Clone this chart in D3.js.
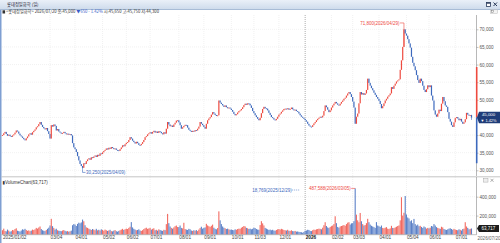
<!DOCTYPE html>
<html><head><meta charset="utf-8">
<script src="https://cdn.jsdelivr.net/npm/d3@7/dist/d3.min.js"></script>
<style>
html,body{margin:0;padding:0;background:#fff;overflow:hidden}
svg{display:block;font-family:"Liberation Sans","DejaVu Sans",sans-serif}
.kr{font-family:"Noto Sans CJK KR","Liberation Sans",sans-serif}
</style></head><body>
<svg id="c" width="500" height="243"></svg>
<script>
// ---------------- DATA ----------------
const stockName = "롯데정밀화학";
const titleText = "롯데정밀화학 (일)";
const startDate = "2025-01-02";
const endDate = "2026-07-20";
// KRX closed days (weekdays) inside the range
const holidays = ["2025-01-27","2025-01-28","2025-01-29","2025-01-30","2025-03-03","2025-05-01","2025-05-05","2025-05-06",
  "2025-06-03","2025-06-06","2025-08-15","2025-10-03","2025-10-06","2025-10-07","2025-10-08","2025-10-09","2025-12-25","2025-12-31",
  "2026-01-01","2026-02-16","2026-02-17","2026-02-18","2026-03-02","2026-05-01","2026-05-05","2026-05-25","2026-06-03"];
const firstOpen = 39800;
// daily closes, in hundreds of won
const closes2025 = [
  400,405,409,403,398,401,397,395,399,402,407,413,410,404,399,396,392,388,
  385,391,396,402,405,401,408,412,416,422,425,431,437,429,423,419,416,420,411,403,
  390,428,424,430,426,413,417,410,407,404,406,409,405,402,404,401,403,399,377,365,
  360,352,340,328,318,312,307,320,318,326,331,334,330,337,335,339,342,338,344,341,348,346,
  351,355,358,362,359,364,361,366,363,360,362,358,357,355,360,365,371,368,374,
  378,380,386,394,390,384,380,376,381,377,372,371,375,380,386,394,397,402,405,
  408,404,409,412,407,410,406,411,409,405,402,408,404,418,437,430,425,427,423,430,435,441,442,
  436,428,418,422,426,429,428,421,415,412,409,412,410,414,413,418,424,437,432,428,
  423,418,432,442,447,451,458,465,461,457,454,456,498,492,488,484,480,484,479,476,478,475,
  471,466,460,456,459,464,468,470,474,479,485,489,486,490,489,484,477,468,
  462,456,451,446,442,449,462,474,480,476,475,470,463,457,451,448,444,442,446,452,
  458,461,466,470,474,475,473,476,472,474,478,473,470,472,468,466,461,456,452,449,446];
const closes2026 = [
  442,438,432,427,424,423,428,433,437,442,446,449,452,450,455,468,484,479,472,465,470,
  478,484,489,494,490,486,484,489,494,498,503,506,512,518,522,516,508,
  495,478,432,452,461,490,522,515,519,514,518,528,560,548,540,533,527,520,514,508,503,
  497,488,476,482,490,498,503,509,513,518,536,531,540,546,552,555,558,585,612,650,700,688,
  682,672,660,648,622,605,595,584,570,556,548,560,553,540,528,522,530,541,
  536,541,512,498,470,458,452,461,472,468,489,508,496,484,480,465,446,438,428,423,436,
  448,451,447,442,446,438,432,436,445,463,458,455,456.5,450];
// daily volumes, in thousands of shares
const volumes2025 = [
  45,62,38,33,52,41,29,35,48,44,58,66,40,36,31,42,55,50,
  60,48,39,44,35,41,52,47,55,70,62,74,85,58,45,40,36,48,60,72,
  95,166,88,70,52,61,45,40,38,35,42,47,39,33,36,30,34,41,98,110,
  105,90,112,125,118,128,158,140,98,76,70,62,55,48,58,52,45,60,44,50,42,55,
  48,40,52,45,38,43,50,36,33,41,47,35,30,38,45,52,60,48,56,
  62,58,70,82,131,75,60,52,45,48,55,42,38,46,58,66,72,60,64,
  70,52,60,66,45,50,41,55,48,42,38,50,46,110,218,120,85,70,62,75,88,95,80,
  78,95,70,65,124,58,52,48,60,55,42,38,45,40,47,36,52,68,82,62,
  70,75,113,96,88,80,92,105,72,60,55,68,245,150,110,85,72,66,58,62,55,50,
  52,48,45,55,50,58,62,60,72,80,90,85,70,66,58,62,55,60,
  72,68,58,52,50,100,141,118,96,70,62,55,48,52,45,50,42,40,48,55,
  58,52,60,55,48,45,42,50,40,38,45,36,34,38,30,32,28,26,24,18.769,27];
const volumes2026 = [
  40,42,50,48,38,36,45,52,48,55,58,62,60,55,72,98,130,90,75,68,80,
  88,95,110,193,120,80,72,85,90,95,100,92,110,125,130,105,118,
  120,141,487.588,210,150,130,228,140,110,95,100,120,166,130,105,92,85,78,70,131,95,
  88,80,95,70,66,72,78,62,58,65,92,70,68,75,82,90,96,150,394,200,230,407,
  212,180,170,140,150,120,165,110,95,105,88,92,80,70,85,76,62,70,
  65,72,90,85,110,95,78,70,65,60,82,75,58,52,48,55,62,66,58,50,60,
  52,48,45,55,50,42,58,62,130,85,70,55,60,63.717];
// intraday extremes shown as wicks
const wickHigh = [["2026-04-29",71800],["2026-07-20",45750]];
const wickLow = [["2025-04-09",30250],["2026-07-20",44300]];
const lastOpenHighLow = [45650, 45750, 44300];
const priceTicks = [30000,35000,40000,45000,50000,55000,60000,65000,70000];
const volumeTicks = [200000,400000];
const axisRangeBand = [32000, 45000, 59300];
const xTicks = [["2025-01-02","2025/01/02"],["2025-03-04","03/04"],["2025-04-01","04/01"],["2025-05-02","05/02"],
  ["2025-06-02","06/02"],["2025-07-01","07/01"],["2025-08-01","08/01"],["2025-09-01","09/01"],["2025-10-01","10/01"],
  ["2025-11-03","11/03"],["2025-12-01","12/01"],["2026-01-02","2026"],["2026-02-02","02/02"],["2026-03-03","03/03"],
  ["2026-04-01","04/01"],["2026-05-04","05/04"],["2026-06-01","06/01"],["2026-07-01","07/01"]];
const endLabel = "2026/07/20";
const annotations = {maxPrice:["2026-04-29",71800], minPrice:["2025-04-09",30250],
  maxVol:["2026-03-05",487588], minVol:["2025-12-29",18769]};

// ---------------- BUILD ----------------
const holSet = new Set(holidays);
const dates = [];
for (let t = Date.parse(startDate+"T00:00:00Z"); t <= Date.parse(endDate+"T00:00:00Z"); t += 864e5) {
  const d = new Date(t), wd = d.getUTCDay(), s = d.toISOString().slice(0,10);
  if (wd !== 0 && wd !== 6 && !holSet.has(s)) dates.push(s);
}
const closes = closes2025.concat(closes2026).map(v => Math.round(v*100));
const vols = volumes2025.concat(volumes2026).map(v => Math.round(v*1000));
const n = Math.min(dates.length, closes.length, vols.length);
const hiMap = new Map(wickHigh), loMap = new Map(wickLow);
const bars = d3.range(n).map(i => {
  const o = i === 0 ? firstOpen : closes[i-1], c = closes[i];
  const hi = Math.max(o, c, hiMap.get(dates[i]) || 0);
  const lo = Math.min(o, c, loMap.get(dates[i]) || Infinity);
  return {i, date: dates[i], o, c, hi, lo, v: vols[i], up: c >= o};
});
const idx = ds => dates.indexOf(ds);

const RED = "#ee4a3f", BLUE = "#3d69bd", VRED = "#f26b62", VBLUE = "#5d82c8";
const axisX = 476.5;
const x = d3.scaleLinear().domain([0, n-1]).range([2.5, 471.5]);
const yP = d3.scaleLinear().domain([30000, 70000]).range([170.3, 29.3]);
const yV = d3.scaleLinear().domain([0, 400000]).range([234.5, 196.7]);
const fmt = d3.format(",");

const svg = d3.select("#c");
// title bar
const defs = svg.append("defs");
const g1 = defs.append("linearGradient").attr("id","tb").attr("x1",0).attr("y1",0).attr("x2",0).attr("y2",1);
g1.append("stop").attr("offset","0").attr("stop-color","#eaf0f8");
g1.append("stop").attr("offset","1").attr("stop-color","#cfdcec");
svg.append("rect").attr("x",0).attr("y",0).attr("width",500).attr("height",9).attr("fill","url(#tb)");
svg.append("line").attr("x1",0).attr("x2",500).attr("y1",9.5).attr("y2",9.5).attr("stroke","#a8bcd6");
svg.append("text").attr("class","kr").attr("x",7).attr("y",6.3).attr("font-size",4.3).attr("fill","#223").text(titleText);
// window icons
svg.append("rect").attr("x",486.5).attr("y",2.5).attr("width",4).attr("height",4).attr("fill","#fff").attr("stroke","#2a3a5a").attr("stroke-width",0.8);
svg.append("rect").attr("x",486.5).attr("y",2.5).attr("width",4).attr("height",1.2).attr("fill","#2a3a5a");
svg.append("path").attr("d","M493.5,2.5L497,6M497,2.5L493.5,6").attr("stroke","#2a3a5a").attr("stroke-width",1);

// left border
svg.append("rect").attr("x",0).attr("y",10).attr("width",1.5).attr("height",233).attr("fill","#7f9fd2");

// grid
const grid = svg.append("g");
grid.selectAll("line.h").data(priceTicks).join("line")
  .attr("x1",2).attr("x2",axisX).attr("y1",d=>yP(d)).attr("y2",d=>yP(d))
  .attr("stroke","#e4e4e4").attr("stroke-width",0.5).attr("stroke-dasharray","1,1");
grid.selectAll("line.hv").data(volumeTicks).join("line")
  .attr("x1",2).attr("x2",axisX).attr("y1",d=>yV(d)).attr("y2",d=>yV(d))
  .attr("stroke","#e4e4e4").attr("stroke-width",0.5).attr("stroke-dasharray","1,1");
const tickIdx = xTicks.map(t => [idx(t[0]), t[1]]).filter(t => t[0] >= 0);
grid.selectAll("line.v").data(tickIdx.slice(1)).join("line")
  .attr("x1",d=>x(d[0])).attr("x2",d=>x(d[0])).attr("y1",15).attr("y2",234)
  .attr("stroke",d=>d[1]==="2026"?"#8a8a8a":"#e2e2e2").attr("stroke-width",d=>d[1]==="2026"?0.7:0.5)
  .attr("stroke-dasharray","1,1");

// info line
const info = svg.append("text").attr("class","kr").attr("x",6).attr("y",13.4).attr("font-size",4.2).attr("fill","#333");
svg.append("rect").attr("x",2.5).attr("y",10.3).attr("width",2.6).attr("height",3.2).attr("fill","#333");
const last = bars[n-1], prev = bars[n-2];
const chg = last.c - prev.c, pct = chg / prev.c * 100;
info.append("tspan").text(`<${stockName}> ${endLabel} 종:${fmt(last.c)} `);
info.append("tspan").attr("fill","#3a5cc8").text(`${chg<0?"▼":"▲"}${fmt(Math.abs(chg))} - ${Math.abs(pct).toFixed(2)}%`);
info.append("tspan").text(` 시:${fmt(lastOpenHighLow[0])} 고:${fmt(lastOpenHighLow[1])} 저:${fmt(lastOpenHighLow[2])}`);
// panel icon
svg.append("rect").attr("x",490.5).attr("y",9.8).attr("width",7).attr("height",3.6).attr("fill","#f4f4f4").attr("stroke","#bbb").attr("stroke-width",0.5);
svg.append("rect").attr("x",491.5).attr("y",10.6).attr("width",2).attr("height",2).attr("fill","none").attr("stroke","#666").attr("stroke-width",0.4);

// candles
const cg = svg.append("g");
cg.selectAll("line.w").data(bars.filter(b => b.hi > Math.max(b.o,b.c) || b.lo < Math.min(b.o,b.c))).join("line")
  .attr("x1",b=>x(b.i)).attr("x2",b=>x(b.i)).attr("y1",b=>yP(b.hi)).attr("y2",b=>yP(b.lo))
  .attr("stroke",b=>b.up?RED:BLUE).attr("stroke-width",0.6);
cg.selectAll("rect").data(bars).join("rect")
  .attr("x",b=>x(b.i)-0.6).attr("width",1.2)
  .attr("y",b=>yP(Math.max(b.o,b.c)))
  .attr("height",b=>Math.max(0.9, Math.abs(yP(b.o)-yP(b.c))))
  .attr("fill",b=>b.up?RED:BLUE);

// volume bars
svg.append("g").selectAll("rect").data(bars).join("rect")
  .attr("x",b=>x(b.i)-0.55).attr("width",1.1)
  .attr("y",b=>yV(b.v)).attr("height",b=>yV(0)-yV(b.v))
  .attr("fill",b=>b.up?VRED:VBLUE);

// panel separators and baseline
svg.append("line").attr("x1",1.5).attr("x2",500).attr("y1",176.8).attr("y2",176.8).attr("stroke","#b5b5b5").attr("stroke-width",0.8);
svg.append("line").attr("x1",1.5).attr("x2",axisX).attr("y1",234.7).attr("y2",234.7).attr("stroke","#999").attr("stroke-width",0.6);

// right axes
const pa = svg.append("g").attr("transform",`translate(${axisX},0)`)
  .call(d3.axisRight(yP).tickValues(priceTicks).tickFormat(fmt).tickSize(2).tickPadding(1));
pa.select(".domain").attr("d","M0,15V176").attr("stroke","#888").attr("stroke-width",0.6);
const va = svg.append("g").attr("transform",`translate(${axisX},0)`)
  .call(d3.axisRight(yV).tickValues(volumeTicks).tickFormat(fmt).tickSize(2).tickPadding(1));
va.select(".domain").attr("d","M0,177V234.7").attr("stroke","#888").attr("stroke-width",0.6);
[pa, va].forEach(a => {
  a.selectAll(".tick line").attr("stroke","#888").attr("stroke-width",0.5);
  a.selectAll(".tick text").attr("font-size",4.6).attr("fill","#555").attr("font-family","Liberation Sans, sans-serif");
});
// hide the 45,000 tick label under the current-price box
pa.selectAll(".tick").filter(d => Math.abs(yP(d) - yP(last.c)) < 5).select("text").remove();
// range band on price axis
svg.append("rect").attr("x",axisX-0.6).attr("width",1.6).attr("y",yP(axisRangeBand[2])).attr("height",yP(axisRangeBand[1])-yP(axisRangeBand[2])).attr("fill",RED);
svg.append("rect").attr("x",axisX-0.6).attr("width",1.6).attr("y",yP(axisRangeBand[1])).attr("height",yP(axisRangeBand[0])-yP(axisRangeBand[1])).attr("fill",BLUE);

// current price box
const cy = yP(last.c);
svg.append("path").attr("d",`M${axisX+0.5},${cy} L${axisX+2.5},${cy-5.8} H500 V${cy+5.8} H${axisX+2.5} Z`).attr("fill","#1f3c78");
svg.append("text").attr("x",488.5).attr("y",cy-1.4).attr("text-anchor","middle").attr("font-size",4.3).attr("fill","#fff").text(fmt(last.c));
svg.append("text").attr("x",488.5).attr("y",cy+4.6).attr("text-anchor","middle").attr("font-size",3.9).attr("fill","#fff").text(`${chg<0?"▼":"▲"} ${Math.abs(pct).toFixed(2)}%`);
// current volume box
const vy = Math.min(yV(last.v), 230);
svg.append("path").attr("d",`M${axisX+0.5},${vy} L${axisX+2.5},${vy-3.4} H499 V${vy+3.4} H${axisX+2.5} Z`).attr("fill","#1c1c1c");
svg.append("text").attr("x",488.5).attr("y",vy+1.6).attr("text-anchor","middle").attr("font-size",4.5).attr("fill","#fff").text(fmt(last.v));
// volume panel icon
svg.append("rect").attr("x",483.5).attr("y",178.5).attr("width",4.5).attr("height",3.6).attr("fill","#eee").attr("stroke","#999").attr("stroke-width",0.4);
svg.append("path").attr("d","M490.5,178.8L493.5,181.8M493.5,178.8L490.5,181.8").attr("stroke","#777").attr("stroke-width",0.6);

// labels
svg.append("text").attr("x",2.5).attr("y",183.6).attr("font-size",4.5).attr("fill","#333")
  .text(`▮VolumeChart(${fmt(last.v)})`);

// x axis labels
const xa = svg.append("g").attr("transform","translate(0,234.7)")
  .call(d3.axisBottom(x).tickValues(tickIdx.map(d=>d[0])).tickFormat((d,i)=>tickIdx[i][1]).tickSize(0).tickPadding(1));
xa.select(".domain").remove();
xa.selectAll(".tick text").attr("text-anchor","start").attr("font-size",4.7)
  .attr("font-family","Liberation Sans, sans-serif")
  .attr("font-weight",(d,i)=>tickIdx[i][1]==="2026"?"bold":"normal").attr("fill",(d,i)=>tickIdx[i][1]==="2026"?"#111":"#444");
svg.append("text").attr("x",477.5).attr("y",240).attr("font-size",4.6).attr("fill","#666").text(endLabel);

// annotations
const fmtD = s => s.replace(/-/g,"/");
const aMax = annotations.maxPrice, ix1 = idx(aMax[0]);
svg.append("line").attr("x1",x(ix1)-4).attr("x2",x(ix1)).attr("y1",yP(aMax[1])).attr("y2",yP(aMax[1])).attr("stroke",RED).attr("stroke-width",0.6);
svg.append("text").attr("x",x(ix1)-4.5).attr("y",yP(aMax[1])+1.6).attr("text-anchor","end").attr("font-size",4.5).attr("fill",RED)
  .text(`${fmt(aMax[1])}(${fmtD(aMax[0])})`);
const aMin = annotations.minPrice, ix2 = idx(aMin[0]);
svg.append("path").attr("d",`M${x(ix2)},${yP(aMin[1])}V${yP(aMin[1])+3}H${x(ix2)+3}`).attr("fill","none").attr("stroke",BLUE).attr("stroke-width",0.6);
svg.append("text").attr("x",x(ix2)+3.5).attr("y",yP(aMin[1])+4.6).attr("font-size",4.5).attr("fill",BLUE)
  .text(`${fmt(aMin[1])}(${fmtD(aMin[0])})`);
const vMax = annotations.maxVol, ix3 = idx(vMax[0]);
svg.append("line").attr("x1",x(ix3)-4).attr("x2",x(ix3)).attr("y1",yV(vMax[1])).attr("y2",yV(vMax[1])).attr("stroke",RED).attr("stroke-width",0.6);
svg.append("text").attr("x",x(ix3)-4.5).attr("y",yV(vMax[1])+1.6).attr("text-anchor","end").attr("font-size",4.5).attr("fill",RED)
  .text(`${fmt(vMax[1])}(${fmtD(vMax[0])})`);
const vMin = annotations.minVol, ix4 = idx(vMin[0]);
svg.append("text").attr("x",x(ix4)-11).attr("y",191.6).attr("text-anchor","end").attr("font-size",4.5).attr("fill",BLUE)
  .text(`${fmt(vMin[1])}(${fmtD(vMin[0])})`);
svg.append("line").attr("x1",x(ix4)-10.5).attr("x2",x(ix4)-3).attr("y1",190).attr("y2",190).attr("stroke",BLUE).attr("stroke-width",0.6).attr("stroke-dasharray","1,1");
</script>
</body></html>
